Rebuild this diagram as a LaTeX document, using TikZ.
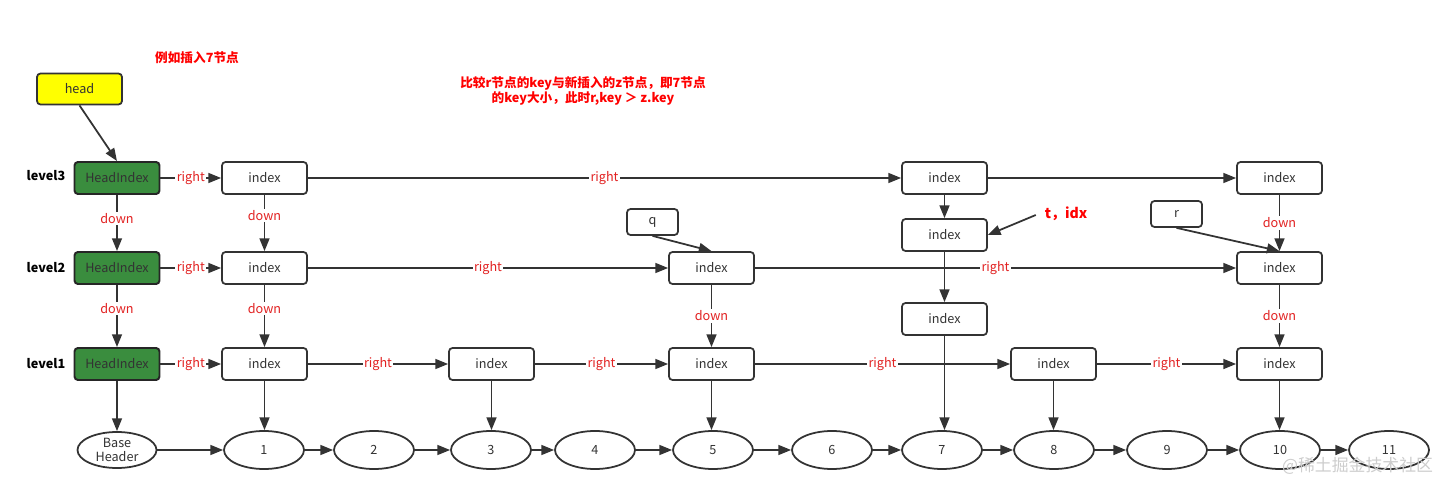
\documentclass[tikz,border=0pt]{standalone}
\usepackage{fontspec}
\setmainfont{Noto Sans CJK SC}
\usepackage{tikz}
\usetikzlibrary{shapes.geometric, arrows.meta, positioning}
\definecolor{mydark}{RGB}{51,51,51}
\definecolor{myred}{RGB}{226,34,34}
\definecolor{pured}{RGB}{255,0,0}
\definecolor{mygreen}{RGB}{58,141,62}
\definecolor{myyellow}{RGB}{255,255,0}
\definecolor{wmgray}{RGB}{205,205,205}
\tikzset{
  idxbox/.style={rectangle, draw=mydark, fill=white, rounded corners=2.5pt,
    minimum width=2.125cm, minimum height=0.8cm, font=\small, text=mydark, line width=1.25pt},
  headidx/.style={idxbox, fill=mygreen, line width=1.4pt, draw=black!85},
  ptrbox/.style={idxbox, minimum width=1.275cm, minimum height=0.65cm},
  valnode/.style={ellipse, draw=mydark, fill=white, minimum width=2cm,
    minimum height=0.95cm, inner sep=0pt, font=\small, text=mydark, line width=1.25pt},
  arrow/.style={-{Triangle[length=9pt,width=7pt]}, line width=1.25pt, color=mydark},
  lbl/.style={fill=white, inner sep=1pt, font=\small, text=myred},
  lvl/.style={font=\small\bfseries, text=black},
  note/.style={font=\small\bfseries, text=pured, align=center}
}

\begin{document}
\begin{tikzpicture}[x=0.025cm, y=-0.025cm]
  \useasboundingbox (0,0) rectangle (1454,492);

  % Notes
  \node[note] (tip1) at (197,58) {例如插入7节点};
  \node[note, inner sep=0pt] (tip2) at (583,91) {比较r节点的key与新插入的z节点，即7节点\\的key大小，此时r,key ＞ z.key};
  \node[idxbox, fill=myyellow, minimum height=0.775cm] (head) at (79.5,89) {head};

  % Level 3
  \node[lvl] (lv3) at (46,176) {level3};
  \node[headidx] (hd3) at (117,178) {HeadIndex};
  \node[idxbox] (n3a) at (264.5,178) {index};
  \node[idxbox] (n3b) at (944.5,178) {index};
  \node[idxbox] (n3c) at (1279.5,178) {index};

  % Level 2
  \node[lvl] (lv2) at (46,268) {level2};
  \node[headidx] (hd2) at (117,268) {HeadIndex};
  \node[idxbox] (n2a) at (264.5,268) {index};
  \node[idxbox] (n2b) at (711.5,268) {index};
  \node[idxbox] (tidx) at (944.5,235) {index};
  \node[idxbox] (n2c) at (944.5,319) {index};
  \node[idxbox] (n2d) at (1279.5,268) {index};

  % pointers
  \node[ptrbox] (q) at (652.5,222) {q};
  \node[ptrbox] (r) at (1176.5,214) {r};
  \node[note, font=\normalsize\bfseries] (tlbl) at (1066,214) {t，idx};

  % Level 1
  \node[lvl] (lv1) at (46,364) {level1};
  \node[headidx] (hd1) at (117,364) {HeadIndex};
  \node[idxbox] (n1a) at (264.5,364) {index};
  \node[idxbox] (n1b) at (491.5,364) {index};
  \node[idxbox] (n1c) at (711.5,364) {index};
  \node[idxbox] (n1d) at (1053.5,364) {index};
  \node[idxbox] (n1e) at (1279.5,364) {index};

  % Base list
  \node[valnode, minimum width=1.975cm, minimum height=0.9cm, align=center, font=\small\linespread{0.85}\selectfont] (base) at (117,450) {Base\\Header};
  \foreach \v/\x in {1/264,2/374,3/491,4/595,5/713,6/832,7/942,8/1054,9/1167,10/1280,11/1389}
    \node[valnode] (v\v) at (\x,450) {\v};

  % right links
  \draw[arrow] (hd3) -- (n3a) node[midway, lbl] {right};
  \draw[arrow] (n3a) -- (n3b) node[midway, lbl] {right};
  \draw[arrow] (n3b) -- (n3c);
  \draw[arrow] (hd2) -- (n2a) node[midway, lbl] {right};
  \draw[arrow] (n2a) -- (n2b) node[midway, lbl] {right};
  \draw[arrow] (tidx) -- (n2c);
  \draw[arrow] (n2b) -- (n2d) node[midway, lbl] {right};
  \draw[arrow] (hd1) -- (n1a) node[midway, lbl] {right};
  \draw[arrow] (n1a) -- (n1b) node[midway, lbl] {right};
  \draw[arrow] (n1b) -- (n1c) node[midway, lbl] {right};
  \draw[arrow] (n2c) -- (n2c |- v7.north);
  \draw[arrow] (n1c) -- (n1d) node[midway, lbl] {right};
  \draw[arrow] (n1d) -- (n1e) node[midway, lbl] {right};

  % down links
  \draw[arrow] (head.south) -- (hd3.north);
  \draw[arrow] (hd3) -- (hd2) node[pos=0.42, lbl] {down};
  \draw[arrow] (hd2) -- (hd1) node[pos=0.38, lbl] {down};
  \draw[arrow] (n3a) -- (n2a) node[pos=0.36, lbl] {down};
  \draw[arrow] (n2a) -- (n1a) node[pos=0.38, lbl] {down};
  \draw[arrow] (n2b) -- (n1c) node[pos=0.5, lbl] {down};
  \draw[arrow] (n3b) -- (tidx);
  \draw[arrow] (n3c) -- (n2d) node[pos=0.5, lbl] {down};
  \draw[arrow] (n2d) -- (n1e) node[pos=0.5, lbl] {down};
  \draw[arrow] (q.south) -- (n2b.north);
  \draw[arrow] (r.south) -- (n2d.north);
  \draw[arrow] (tlbl.west) ++(-4,1) -- (tidx.east);

  % to base list
  \draw[arrow] (hd1) -- (base);
  \draw[arrow] (n1a) -- (n1a |- v1.north);
  \draw[arrow] (n1b) -- (n1b |- v3.north);
  \draw[arrow] (n1c) -- (n1c |- v5.north);
  \draw[arrow] (n1d) -- (n1d |- v8.north);
  \draw[arrow] (n1e) -- (n1e |- v10.north);
  \draw[arrow] (base) -- (v1);
  \foreach \a/\b in {1/2,2/3,3/4,4/5,5/6,6/7,7/8,8/9,9/10,10/11}
    \draw[arrow] (v\a) -- (v\b);

  \node[font=\large, text=wmgray, anchor=east] (wm) at (1438,466) {@稀土掘金技术社区};
\end{tikzpicture}
\end{document}
